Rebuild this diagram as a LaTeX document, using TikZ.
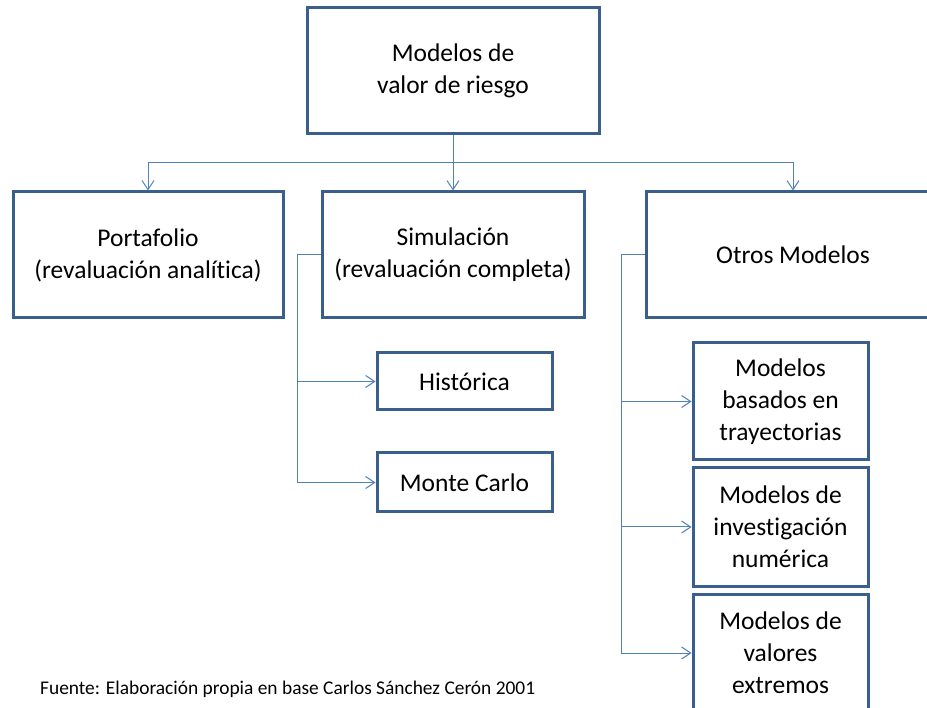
\documentclass[tikz,border=0pt]{standalone}
\usepackage{fontspec}
\setmainfont[Ligatures=NoCommon]{Carlito}
\usetikzlibrary{arrows.meta}

\definecolor{boxblue}{RGB}{58,95,140}
\definecolor{lineblue}{RGB}{79,129,189}

\tikzset{
    box/.style={draw=boxblue, line width=3pt, fill=white, align=center,
        inner sep=0pt, font=\fontsize{25.5}{32}\selectfont},
    link/.style={draw=lineblue, line width=1pt},
    arrow/.style={link, -{Straight Barb[length=9pt,width=12pt,line width=1pt]}},
}

\begin{document}
\begin{tikzpicture}[x=1pt, y=-1pt]
            \useasboundingbox (0,0) rectangle (927,708);
            \clip (0,0) rectangle (927,708);
            % root
            \node[box, minimum width=292, minimum height=126] (top) at (453,71)
                {Modelos de\\valor de riesgo};
            % first level
            \node[box, minimum width=270, minimum height=126] (port) at (148,255)
                {Portafolio\\(revaluación analítica)};
            \node[box, minimum width=262, minimum height=126] (sim) at (453,255)
                {Simulación\\(revaluación completa)};
            \node[box, minimum width=294, minimum height=126] (otros) at (793,255)
                {Otros Modelos};
            % under Simulación
            \node[box, minimum width=175, minimum height=57] (hist) at (464.5,381.5)
                {Histórica};
            \node[box, minimum width=175, minimum height=59] (monte) at (464.5,482.5)
                {Monte Carlo};
            % under Otros Modelos
            \node[box, minimum width=175, minimum height=117] (tray) at (780.5,401.5)
                {Modelos\\basados en\\trayectorias};
            \node[box, minimum width=175, minimum height=118] (inves) at (780.5,527)
                {Modelos de\\investigación\\numérica};
            \node[box, minimum width=175, minimum height=118] (extr) at (780.5,653)
                {Modelos de\\valores\\extremos};
            \node[anchor=base west, inner sep=0pt, font=\fontsize{19.4}{23}\selectfont] (fuente) at (40,694)
                {Fuente: Elaboración propia en base Carlos Sánchez Cerón 2001};

            \coordinate (bus) at (453,163);
            \coordinate (simtrunk) at (297,255);
            \coordinate (otrostrunk) at (621,255);

            \draw[link] (top.south) -- (bus);
            \draw[arrow] (bus) -| (port.north);
            \draw[arrow] (bus) -- (sim.north);
            \draw[arrow] (bus) -| (otros.north);

            \draw[arrow] (sim.west) -- (simtrunk) |- (monte.west);
            \draw[arrow] (simtrunk) |- (hist.west);

            \draw[arrow] (otros.west) -- (otrostrunk) |- (extr.west);
            \draw[arrow] (otrostrunk) |- (tray.west);
            \draw[arrow] (otrostrunk) |- (inves.west);
\end{tikzpicture}
\end{document}
